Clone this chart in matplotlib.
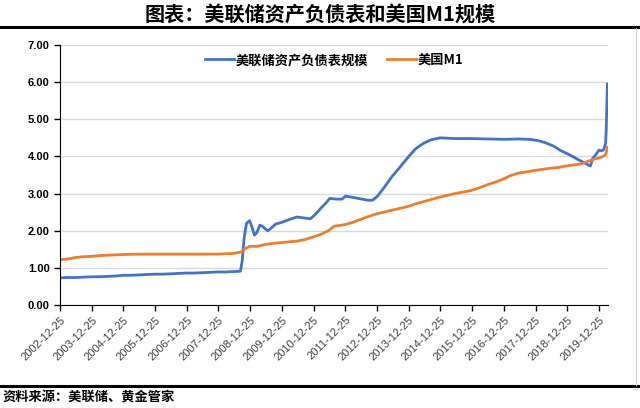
import matplotlib
matplotlib.use("Agg")
import matplotlib.pyplot as plt
import matplotlib.dates as mdates
import pandas as pd
from matplotlib.lines import Line2D

plt.rcParams['font.family'] = ['Noto Sans CJK SC', 'DejaVu Sans']

fed_dates = ["2002-12-25", "2003-03-26", "2003-06-25", "2003-09-24", "2003-12-24",
             "2004-03-24", "2004-06-23", "2004-09-22", "2004-12-22", "2005-03-23",
             "2005-06-22", "2005-09-21", "2005-12-21", "2006-03-22", "2006-06-21",
             "2006-09-20", "2006-12-20", "2007-03-21", "2007-06-20", "2007-09-19",
             "2007-12-19", "2008-03-19", "2008-06-18", "2008-09-03", "2008-09-24",
             "2008-10-15", "2008-11-12", "2008-12-17", "2009-01-14", "2009-02-11",
             "2009-03-11", "2009-04-15", "2009-05-13", "2009-06-17", "2009-07-15",
             "2009-08-12", "2009-09-16", "2009-10-14", "2009-12-16", "2010-03-17",
             "2010-06-16", "2010-09-15", "2010-11-17", "2011-01-19", "2011-03-16",
             "2011-05-18", "2011-06-29", "2011-09-14", "2011-11-16", "2011-12-28",
             "2012-03-14", "2012-06-13", "2012-09-12", "2012-10-31", "2012-12-26",
             "2013-03-13", "2013-06-12", "2013-09-11", "2013-12-25", "2014-03-12",
             "2014-06-11", "2014-09-10", "2014-12-24", "2015-06-24", "2015-12-23",
             "2016-06-22", "2016-12-21", "2017-06-21", "2017-10-18", "2018-01-17",
             "2018-04-18", "2018-07-18", "2018-10-17", "2019-01-16", "2019-04-17",
             "2019-07-17", "2019-09-18", "2019-10-16", "2019-11-20", "2019-12-25",
             "2020-01-22", "2020-02-19", "2020-03-11", "2020-03-18", "2020-03-25",
             "2020-04-01"]
fed_values = [0.73, 0.74, 0.74, 0.75, 0.76,
              0.76, 0.77, 0.78, 0.80, 0.80,
              0.81, 0.82, 0.83, 0.83, 0.84,
              0.85, 0.86, 0.86, 0.87, 0.88,
              0.89, 0.89, 0.90, 0.91, 1.20,
              1.80, 2.20, 2.27, 2.10, 1.88,
              1.95, 2.15, 2.12, 2.05, 2.00,
              2.05, 2.12, 2.18, 2.22, 2.30,
              2.37, 2.34, 2.32, 2.45, 2.60,
              2.75, 2.87, 2.85, 2.85, 2.93,
              2.90, 2.86, 2.82, 2.82, 2.92,
              3.15, 3.45, 3.70, 4.00, 4.20,
              4.35, 4.45, 4.50, 4.48, 4.48,
              4.47, 4.46, 4.47, 4.46, 4.43,
              4.37, 4.28, 4.15, 4.05, 3.93,
              3.82, 3.74, 3.95, 4.05, 4.17,
              4.15, 4.18, 4.36, 4.67, 5.30,
              5.95]

m1_dates = ["2002-12-25", "2003-03-26", "2003-06-25", "2003-09-24", "2003-12-24",
            "2004-03-24", "2004-06-23", "2004-09-22", "2004-12-22", "2005-06-22",
            "2005-12-21", "2006-06-21", "2006-12-20", "2007-06-20", "2007-12-19",
            "2008-03-19", "2008-06-18", "2008-09-17", "2008-10-15", "2008-12-17",
            "2009-03-18", "2009-06-17", "2009-09-16", "2009-12-16", "2010-03-17",
            "2010-06-16", "2010-09-15", "2010-12-15", "2011-03-16", "2011-06-15",
            "2011-08-17", "2011-12-14", "2012-03-14", "2012-06-13", "2012-09-12",
            "2012-12-12", "2013-03-13", "2013-06-12", "2013-09-11", "2013-12-11",
            "2014-03-12", "2014-06-11", "2014-09-10", "2014-12-10", "2015-03-11",
            "2015-06-10", "2015-09-09", "2015-12-09", "2016-03-09", "2016-06-08",
            "2016-09-07", "2016-12-07", "2017-03-08", "2017-06-07", "2017-09-06",
            "2017-12-06", "2018-03-07", "2018-06-06", "2018-09-05", "2018-12-05",
            "2019-03-06", "2019-06-05", "2019-09-04", "2019-12-04", "2020-01-15",
            "2020-02-12", "2020-03-11", "2020-03-25", "2020-04-01"]
m1_values = [1.22, 1.24, 1.28, 1.30, 1.31,
             1.33, 1.34, 1.35, 1.36, 1.37,
             1.37, 1.37, 1.37, 1.37, 1.37,
             1.38, 1.39, 1.43, 1.50, 1.58,
             1.58, 1.63, 1.66, 1.68, 1.70,
             1.72, 1.76, 1.83, 1.90, 2.00,
             2.12, 2.16, 2.22, 2.30, 2.38,
             2.45, 2.50, 2.55, 2.60, 2.65,
             2.72, 2.78, 2.84, 2.90, 2.95,
             3.00, 3.04, 3.08, 3.15, 3.23,
             3.30, 3.38, 3.48, 3.55, 3.58,
             3.62, 3.65, 3.68, 3.70, 3.74,
             3.77, 3.80, 3.88, 3.95, 3.98,
             4.00, 4.05, 4.15, 4.25]

series_names = ["美联储资产负债表规模", "美国M1"]
tick_labels = [f"{y}-12-25" for y in range(2002, 2020)]
title = "图表：美联储资产负债表和美国M1规模"
source = "资料来源：美联储、黄金管家"

fig = plt.figure(figsize=(6.4, 4.08), dpi=100)
ax = fig.add_axes([60/640, 1-305/408, 548/640, 260/408])

ax.plot(pd.to_datetime(fed_dates), fed_values, color="#4472C4", lw=2.0,
        label=series_names[0], solid_joinstyle="round")
ax.plot(pd.to_datetime(m1_dates), m1_values, color="#ED7D31", lw=2.0,
        label=series_names[1], solid_joinstyle="round")

ax.set_ylim(0, 7)
ax.set_yticks(range(0, 8))
ax.set_yticklabels([f"{v:.2f}" for v in range(0, 8)], fontsize=8,
                   fontweight="bold", family=["Liberation Sans", "DejaVu Sans"])
ax.set_xlim(pd.Timestamp("2002-12-25"), pd.Timestamp("2020-04-08"))
ax.set_xticks(pd.to_datetime(tick_labels))
ax.set_xticklabels(tick_labels, rotation=45, ha="right", rotation_mode="anchor",
                   fontsize=8, color="#404040", family=["Liberation Sans", "DejaVu Sans"])

ax.grid(axis="y", color="#D9D9D9", lw=1)
ax.set_axisbelow(True)
for s in ["top", "right"]:
    ax.spines[s].set_visible(False)
ax.spines["left"].set_color("black")
ax.spines["bottom"].set_color("black")
ax.tick_params(axis="both", direction="out", length=4, width=1, color="black")
ax.tick_params(axis="x", pad=3)

leg = ax.legend(loc="upper center", bbox_to_anchor=(0.5, 1.015), ncol=2, frameon=False,
                prop={"family": ["Noto Sans CJK SC", "DejaVu Sans"], "size": 9.5, "weight": "bold"},
                handlelength=2.2, columnspacing=1.4, handletextpad=0.15)

fig.text(0.5, 1-15/408, title, ha="center", va="center", fontsize=14.5, fontweight="bold")
fig.add_artist(Line2D([0, 1], [1-26.5/408, 1-26.5/408], color="black", lw=2.2))
fig.add_artist(Line2D([0, 1], [1-385.5/408, 1-385.5/408], color="black", lw=2.2))
fig.add_artist(Line2D([636/640, 636/640], [1-385/408, 1-28/408], color="#D0D0D0", lw=0.8))
fig.text(3/640, 1-398/408, source, ha="left", va="center", fontsize=9.5, fontweight="bold")

fig.savefig("out.png", dpi=100)
